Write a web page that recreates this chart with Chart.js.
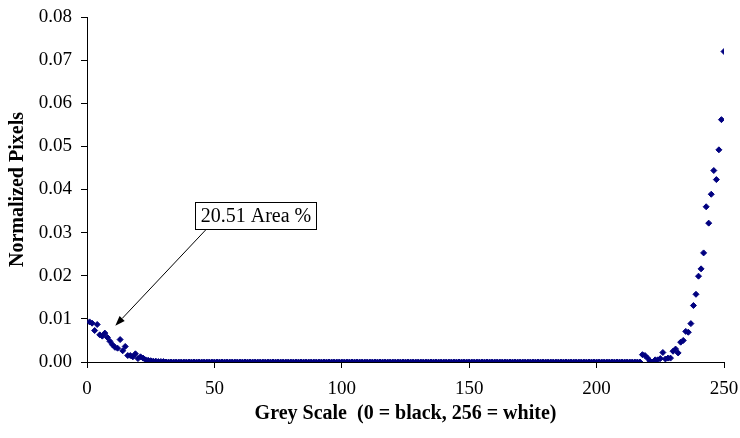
<!DOCTYPE html>
<html>
<head>
<meta charset="utf-8">
<script src="https://cdn.jsdelivr.net/npm/chart.js@4/dist/chart.umd.min.js"></script>
<style>
  html, body { margin: 0; padding: 0; background: #ffffff; }
  #wrap { width: 740px; height: 438px; }
</style>
</head>
<body>
<div id="wrap"><canvas id="c" width="740" height="438"></canvas></div>
<script>
// Grey level (x) for each measured point
const greyLevels = [
  1, 2, 3, 4, 5, 6, 7, 8, 9, 10,
  11, 12, 13, 14, 15, 16, 17, 18, 19, 20,
  21, 22, 23, 24, 25, 26, 27, 28, 29, 30,
  31, 32, 33, 34, 35, 36, 37, 38, 39, 40,
  41, 42, 43, 44, 45, 46, 47, 48, 49, 50,
  51, 52, 53, 54, 55, 56, 57, 58, 59, 60,
  61, 62, 63, 64, 65, 66, 67, 68, 69, 70,
  71, 72, 73, 74, 75, 76, 77, 78, 79, 80,
  81, 82, 83, 84, 85, 86, 87, 88, 89, 90,
  91, 92, 93, 94, 95, 96, 97, 98, 99, 100,
  101, 102, 103, 104, 105, 106, 107, 108, 109, 110,
  111, 112, 113, 114, 115, 116, 117, 118, 119, 120,
  121, 122, 123, 124, 125, 126, 127, 128, 129, 130,
  131, 132, 133, 134, 135, 136, 137, 138, 139, 140,
  141, 142, 143, 144, 145, 146, 147, 148, 149, 150,
  151, 152, 153, 154, 155, 156, 157, 158, 159, 160,
  161, 162, 163, 164, 165, 166, 167, 168, 169, 170,
  171, 172, 173, 174, 175, 176, 177, 178, 179, 180,
  181, 182, 183, 184, 185, 186, 187, 188, 189, 190,
  191, 192, 193, 194, 195, 196, 197, 198, 199, 200,
  201, 202, 203, 204, 205, 206, 207, 208, 209, 210,
  211, 212, 213, 214, 215, 216, 217, 218, 219, 220,
  221, 222, 223, 224, 225, 226, 227, 228, 229, 230,
  231, 232, 233, 234, 235, 236, 237, 238, 239, 240,
  241, 242, 243, 244, 245, 246, 247, 248, 249, 250
];

// Normalized pixel count for each grey level (same order as greyLevels)
const normalizedPixels = [
  0.0093, 0.0090, 0.0073, 0.0087, 0.0063, 0.0060, 0.0067, 0.0057, 0.0048, 0.0040, // 1-10
  0.0034, 0.0032, 0.0052, 0.0026, 0.0036, 0.0015, 0.0015, 0.0012, 0.0019, 0.0008, // 11-20
  0.0012, 0.0009, 0.0005, 0.0004, 0.0003, 0.0002, 0.0002, 0.0001, 0.0001, 0.0001, // 21-30
  0, 0, 0, 0, 0, 0, 0, 0, 0, 0, // 31-40
  0, 0, 0, 0, 0, 0, 0, 0, 0, 0, // 41-50
  0, 0, 0, 0, 0, 0, 0, 0, 0, 0, // 51-60
  0, 0, 0, 0, 0, 0, 0, 0, 0, 0, // 61-70
  0, 0, 0, 0, 0, 0, 0, 0, 0, 0, // 71-80
  0, 0, 0, 0, 0, 0, 0, 0, 0, 0, // 81-90
  0, 0, 0, 0, 0, 0, 0, 0, 0, 0, // 91-100
  0, 0, 0, 0, 0, 0, 0, 0, 0, 0, // 101-110
  0, 0, 0, 0, 0, 0, 0, 0, 0, 0, // 111-120
  0, 0, 0, 0, 0, 0, 0, 0, 0, 0, // 121-130
  0, 0, 0, 0, 0, 0, 0, 0, 0, 0, // 131-140
  0, 0, 0, 0, 0, 0, 0, 0, 0, 0, // 141-150
  0, 0, 0, 0, 0, 0, 0, 0, 0, 0, // 151-160
  0, 0, 0, 0, 0, 0, 0, 0, 0, 0, // 161-170
  0, 0, 0, 0, 0, 0, 0, 0, 0, 0, // 171-180
  0, 0, 0, 0, 0, 0, 0, 0, 0, 0, // 181-190
  0, 0, 0, 0, 0, 0, 0, 0, 0, 0, // 191-200
  0, 0, 0, 0, 0, 0, 0, 0, 0, 0, // 201-210
  0, 0, 0, 0, 0, 0, 0, 0.0017, 0.0015, 0.0009, // 211-220
  0.0002, 0.0000, 0.0005, 0.0005, 0.0008, 0.0022, 0.0007, 0.0009, 0.0009, 0.0025, // 221-230
  0.0030, 0.0021, 0.0046, 0.0050, 0.0071, 0.0069, 0.0089, 0.0131, 0.0157, 0.0199, // 231-240
  0.0216, 0.0253, 0.0360, 0.0322, 0.0389, 0.0444, 0.0423, 0.0492, 0.0562, 0.0720  // 241-250
];

const xTickValues = [0, 50, 100, 150, 200, 250];
const yTickValues = [0, 0.01, 0.02, 0.03, 0.04, 0.05, 0.06, 0.07, 0.08];

const xTitle = 'Grey Scale  (0 = black, 256 = white)';
const yTitle = 'Normalized Pixels';
const calloutText = '20.51 Area %';

const SERIF = "'Liberation Serif', 'Times New Roman', serif";

const points = greyLevels.map((g, i) => ({ x: g, y: normalizedPixels[i] }));

// Callout drawn in data space (box anchor, arrow tail, arrow tip)
const calloutPlugin = {
  id: 'callout',
  afterDraw(chart) {
    const { ctx, scales: { x, y } } = chart;
    const bx = x.getPixelForValue(42.5);
    const by = y.getPixelForValue(0.0370);
    ctx.save();
    ctx.font = '20px ' + SERIF;
    const tw = ctx.measureText(calloutText).width;
    const bw = Math.round(tw + 10), bh = 27;
    const left = Math.round(bx) + 0.5, top = Math.round(by) + 0.5;
    ctx.fillStyle = '#ffffff';
    ctx.fillRect(left, top, bw, bh);
    ctx.strokeStyle = '#000000';
    ctx.lineWidth = 1;
    ctx.strokeRect(left, top, bw, bh);
    ctx.fillStyle = '#000000';
    ctx.textAlign = 'center';
    ctx.textBaseline = 'middle';
    ctx.fillText(calloutText, left + bw / 2, top + bh / 2 + 1);

    // arrow
    const tx = x.getPixelForValue(46.7), ty = y.getPixelForValue(0.0307);
    const hx = x.getPixelForValue(11.1), hy = y.getPixelForValue(0.0084);
    const ang = Math.atan2(hy - ty, hx - tx);
    const L = 10, W = 3.5;
    const bxp = hx - L * Math.cos(ang), byp = hy - L * Math.sin(ang);
    ctx.beginPath();
    ctx.moveTo(tx, ty);
    ctx.lineTo(bxp, byp);
    ctx.stroke();
    ctx.beginPath();
    ctx.moveTo(hx, hy);
    ctx.lineTo(bxp + W * Math.sin(ang), byp - W * Math.cos(ang));
    ctx.lineTo(bxp - W * Math.sin(ang), byp + W * Math.cos(ang));
    ctx.closePath();
    ctx.fill();
    ctx.restore();
  }
};

new Chart(document.getElementById('c'), {
  type: 'scatter',
  data: {
    datasets: [{
      data: points,
      pointStyle: 'rectRot',
      pointRadius: 3,
      borderWidth: 1,
      backgroundColor: '#000080',
      borderColor: '#000080',
      showLine: false
    }]
  },
  options: {
    responsive: false,
    animation: false,
    events: [],
    layout: { padding: { left: 0, top: 17, right: 16, bottom: 0 } },
    plugins: { legend: { display: false }, tooltip: { enabled: false } },
    scales: {
      x: {
        type: 'linear',
        min: 0, max: 250,
        afterBuildTicks(s) { s.ticks = xTickValues.map(v => ({ value: v })); },
        afterFit(s) { s.height = 76; s.paddingLeft = 0; s.paddingRight = 0; },
        grid: { drawOnChartArea: false, drawTicks: true, tickLength: 6, color: '#000000', tickColor: '#000000' },
        border: { color: '#000000', width: 1 },
        ticks: { color: '#000000', padding: 10, maxRotation: 0, font: { family: SERIF, size: 19 } },
        title: { display: true, text: xTitle, color: '#000000', padding: { top: 0, bottom: 12 }, font: { family: SERIF, size: 20, weight: 'bold' } }
      },
      y: {
        type: 'linear',
        min: 0, max: 0.08,
        afterBuildTicks(s) { s.ticks = yTickValues.map(v => ({ value: v })); },
        afterFit(s) { s.width = 87; s.paddingTop = 0; s.paddingBottom = 0; },
        grid: { drawOnChartArea: false, drawTicks: true, tickLength: 6, color: '#000000', tickColor: '#000000' },
        border: { color: '#000000', width: 1 },
        ticks: { color: '#000000', padding: 9, font: { family: SERIF, size: 19 }, callback: v => v.toFixed(2) },
        title: { display: true, text: yTitle, color: '#000000', padding: { top: 6, bottom: 0 }, font: { family: SERIF, size: 20, weight: 'bold' } }
      }
    }
  },
  plugins: [calloutPlugin]
});
</script>
</body>
</html>
